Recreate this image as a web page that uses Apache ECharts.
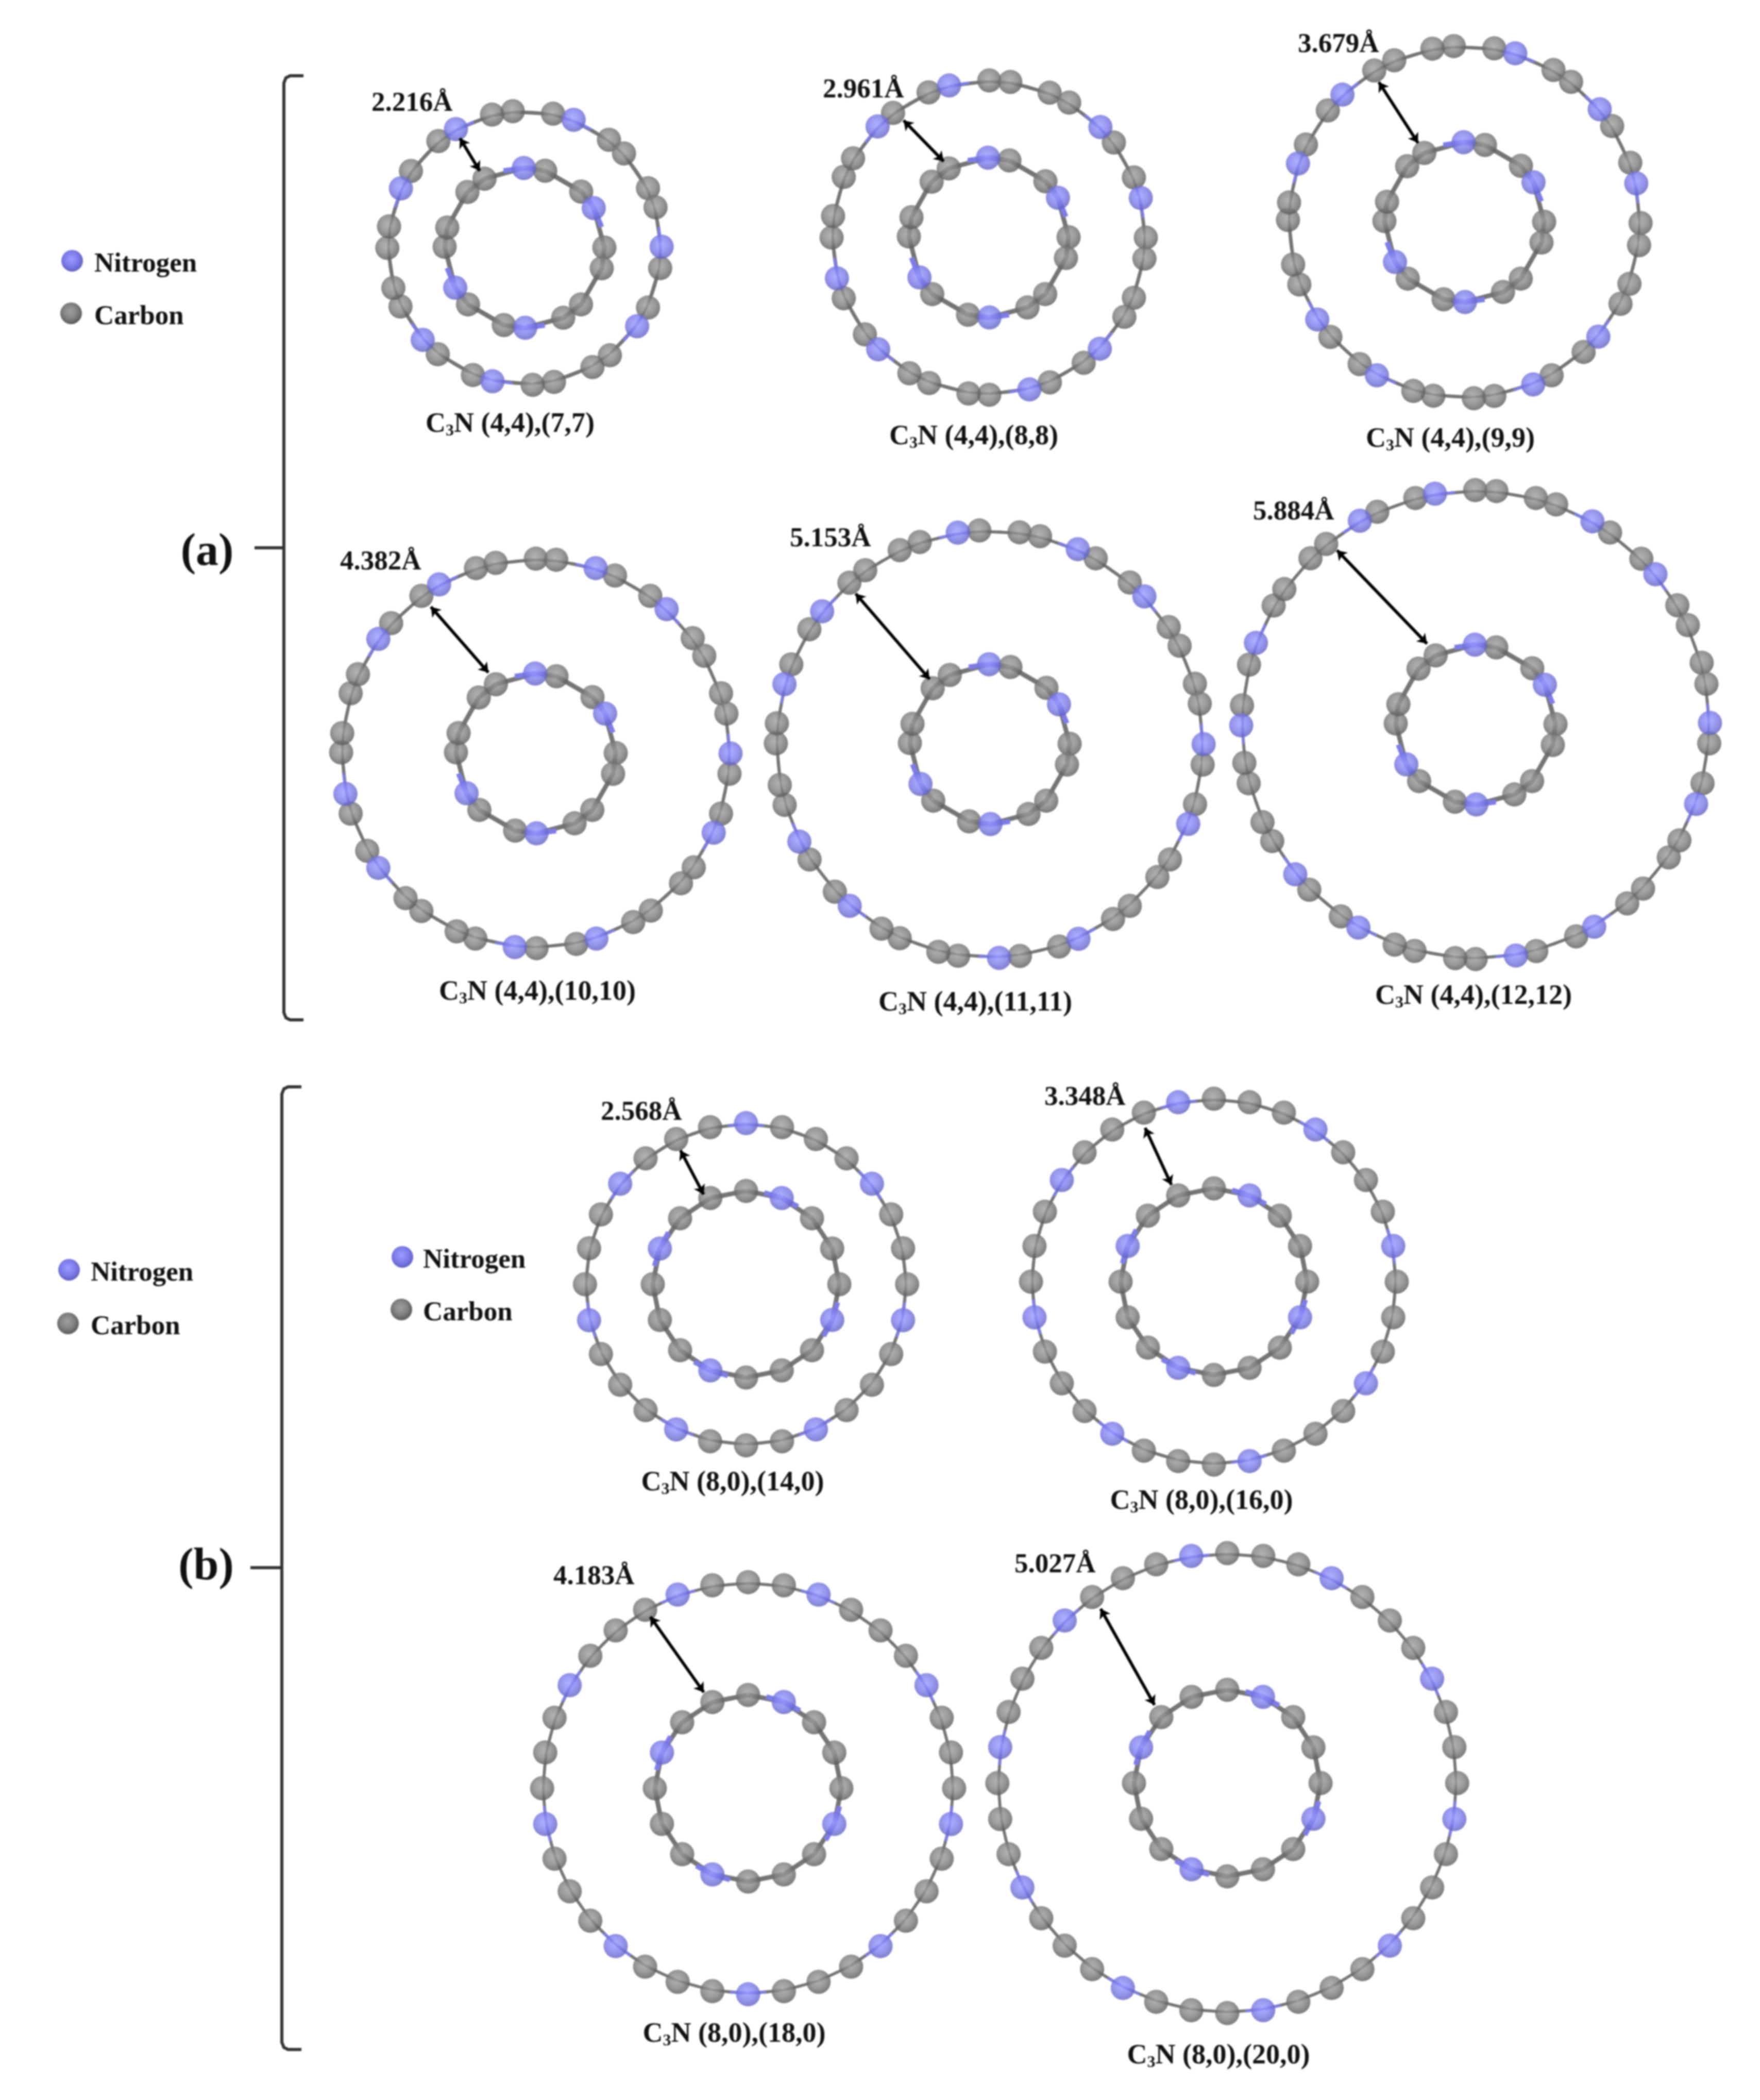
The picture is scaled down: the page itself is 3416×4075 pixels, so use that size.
<!DOCTYPE html>
<html>
<head>
<meta charset="utf-8">
<title>C3N double walled nanotubes</title>
<script src="https://cdn.jsdelivr.net/npm/echarts@6/dist/echarts.min.js"></script>
<style>
  html, body { margin: 0; padding: 0; background: #fff; }
  /* the source figure is a soft upscaled bitmap */
  #main { width: 3416px; height: 4075px; filter: blur(1.6px); }
</style>
</head>
<body>
<div id="main"></div>
<script>
// atom angles, degrees clockwise from the top of each ring
const inner44N = [359.5, 60.1, 179.5, 240.1];
const inner44C = [15, 45.2, 89.7, 104.8, 135, 151, 195, 225, 270.8, 284.8, 314.4, 330];
const inner80N = [22.5, 112.5, 202.5, 292.5];
const inner80C = [0, 45, 67.5, 90, 135, 157.5, 180, 225, 247.5, 270, 315, 337.5];

const outer77N = [21, 89.5, 124.8, 193.5, 227.9, 295.7, 330];
const outer77C = [355.1, 12, 38, 46.5, 64.2, 72.8, 98.5, 115.8, 141.5, 150.3, 167.6, 176.6, 202.1, 219.2, 244.7, 253, 270, 279, 304.1, 321.1, 346.3];
const outer88N = [45.3, 75.4, 135, 165, 224.7, 255, 315, 345.4];
const outer88C = [0.2, 7.9, 22.8, 30.8, 52.8, 67.5, 90, 97.7, 112.5, 120.3, 142.8, 157.1, 179.8, 187.4, 202.3, 210.3, 232, 247.3, 270, 277.9, 292.7, 300.3, 322.5, 337.5];
const outer99N = [16.8, 50.2, 77.3, 130.5, 157, 209.7, 236.5, 289.4, 316.3];
const outer99C = [356.6, 9.8, 30.4, 37.3, 57, 70.3, 90.3, 97.5, 110.5, 117.6, 137.4, 150.3, 170.2, 176.9, 190.1, 196.8, 216.4, 229.4, 249.3, 256.1, 270.7, 276.4, 296.1, 309.3, 329.3, 336.6, 349.6];
const outer1010N = [17.9, 42.2, 90, 114, 161.9, 186.2, 234, 258, 306, 330.2];
const outer1010C = [0, 6, 24, 36, 53.7, 59.9, 72, 78.2, 96, 108, 125.8, 131.8, 143.8, 150, 168, 179.8, 198.1, 204, 216, 222, 240, 252, 270.3, 276, 288, 294, 312, 324, 342.1, 348.1];
const outer1111N = [24.3, 46.3, 90, 111.9, 155.5, 177.5, 220.9, 242.9, 286.3, 308.4, 351.4];
const outer1111C = [357.2, 8, 13.6, 29.7, 40.9, 56.8, 62.6, 73.6, 79.1, 95.5, 106.3, 122.6, 128.4, 139.1, 144.8, 161.1, 171.9, 188.5, 193.9, 204.9, 210.4, 226.4, 237.4, 253.5, 259, 270.2, 275.6, 291.9, 302.5, 319, 324.4, 335.1, 340.9];
const outer1212N = [29.9, 50.1, 89.6, 109.8, 149.6, 170.1, 210, 230.3, 269.8, 290.4, 330.4, 350];
const outer1212C = [359.9, 5.1, 14.9, 20.1, 35, 45, 59.4, 64.9, 74.7, 80, 94.6, 104.5, 119.6, 124.5, 134.4, 139.7, 154.6, 165, 180, 185, 195.1, 200.2, 215.1, 225.2, 240.2, 245.4, 255.5, 260.6, 274.7, 284.8, 300.5, 305.3, 315.2, 320.4, 335.2, 345.1];

const outer140N = [0, 51.4, 102.9, 154.3, 205.7, 257.1, 308.6];
const outer140C = [12.9, 25.7, 38.6, 64.3, 77.1, 90, 115.7, 128.6, 141.4, 167.1, 180, 192.9, 218.6, 231.4, 244.3, 270, 282.9, 295.7, 321.4, 334.3, 347.1];
const outer160N = [33.75, 78.75, 123.75, 168.75, 213.75, 258.75, 303.75, 348.75];
const outer160C = [0, 11.25, 22.5, 45, 56.25, 67.5, 90, 101.25, 112.5, 135, 146.25, 157.5, 180, 191.25, 202.5, 225, 236.25, 247.5, 270, 281.25, 292.5, 315, 326.25, 337.5];
const outer180N = [20, 60, 100, 140, 180, 220, 260, 300, 340];
const outer180C = [0, 10, 30, 40, 50, 70, 80, 90, 110, 120, 130, 150, 160, 170, 190, 200, 210, 230, 240, 250, 270, 280, 290, 310, 320, 330, 350];
const outer200N = [27, 63, 99, 135, 171, 207, 243, 279, 315, 351];
const outer200C = [0, 9, 18, 36, 45, 54, 72, 81, 90, 108, 117, 126, 144, 153, 162, 180, 189, 198, 216, 225, 234, 252, 261, 270, 288, 297, 306, 324, 333, 342];

// wall radii in angstrom
const innerRadius = [3.04, 3.04, 3.04, 3.04, 3.04, 3.04, 3.55, 3.55, 3.55, 3.55];
const outerRadius = [5.22, 5.98, 6.71, 7.41, 8.14, 8.92, 6.13, 6.96, 7.84, 8.75];

// wall to wall arrows: radius and angle at both ends
const arrowOuterR = [4.84, 5.51, 6.24, 6.86, 7.67, 8.47, 5.67, 6.41, 7.51, 8.2];
const arrowOuterA = [329.5, 324, 328.6, 324.4, 318.3, 321.5, 333.9, 335.9, 330.3, 324];
const arrowInnerR = [3.39, 3.37, 3.49, 3.57, 3.37, 3.59, 3.78, 4.02, 4.02, 4.06];
const arrowInnerA = [329.8, 329.4, 329.7, 329.6, 317.2, 329, 334.7, 336.3, 335.2, 317];

const gapLabels = ['2.216Å', '2.961Å', '3.679Å', '4.382Å', '5.153Å', '5.884Å', '2.568Å', '3.348Å', '4.183Å', '5.027Å'];
const innerTube = ['(4,4)', '(4,4)', '(4,4)', '(4,4)', '(4,4)', '(4,4)', '(8,0)', '(8,0)', '(8,0)', '(8,0)'];
const outerTube = ['(7,7)', '(8,8)', '(9,9)', '(10,10)', '(11,11)', '(12,12)', '(14,0)', '(16,0)', '(18,0)', '(20,0)'];

const outerN = [outer77N, outer88N, outer99N, outer1010N, outer1111N, outer1212N, outer140N, outer160N, outer180N, outer200N];
const outerC = [outer77C, outer88C, outer99C, outer1010C, outer1111C, outer1212C, outer140C, outer160C, outer180C, outer200C];
const legendNames = ['Nitrogen', 'Carbon'];

// layout, in page pixels
const pxPerAngstrom = 51;
const panelCenter = [[1018, 481], [1919, 461], [2842, 431], [1040, 1462], [1921, 1444], [2864, 1406], [1448, 2492], [2356, 2487], [1452, 3470], [2382, 3460]];
const gapLabelPos = [[721, 201], [1597, 175], [2519, 87], [660, 1091], [1533, 1046], [2432, 994], [1166, 2159], [2027, 2130], [1074, 3060], [1969, 3037]];
const captionPos = [[990, 824], [1890, 848], [2815, 853], [1043, 1926], [1893, 1947], [2860, 1934], [1422, 2878], [2332, 2914], [1425, 3948], [2365, 3990]];
const legendPos = [[140, 506, 183], [134, 2464, 176], [781, 2439, 821]];
const legendStep = [102, 104, 102];

const chart = echarts.init(document.getElementById('main'), null, { renderer: 'canvas' });

function sphere(light, mid, dark) {
    return new echarts.graphic.RadialGradient(0.46, 0.42, 0.56, [
        { offset: 0, color: light },
        { offset: 0.55, color: mid },
        { offset: 1, color: dark }
    ]);
}
const carbonFill = sphere('#a0a0a0', '#848484', '#5c5c5c');
const nitrogenFill = sphere('#9c9cff', '#7f7fee', '#6262c4');

function ringBonds(radius, angles) {
    const sorted = angles.slice().sort((a, b) => a - b);
    const pts = sorted.map(a => [radius, a]);
    pts.push([radius, sorted[0]]);
    pts.push(['-', '-']);
    return pts;
}

// half bonds on either side of each nitrogen
function nitrogenBonds(radius, nAngles, cAngles) {
    const sorted = nAngles.concat(cAngles).sort((a, b) => a - b);
    const pts = [];
    sorted.forEach((a, i) => {
        if (nAngles.indexOf(a) < 0) return;
        const prev = sorted[(i - 1 + sorted.length) % sorted.length];
        const next = sorted[(i + 1) % sorted.length];
        const before = a - ((a - prev + 360) % 360) / 2;
        const after = a + ((next - a + 360) % 360) / 2;
        pts.push([radius, (before + 360) % 360], [radius, a], [radius, after % 360], ['-', '-']);
    });
    return pts;
}

const polar = [], angleAxis = [], radiusAxis = [], series = [];

panelCenter.forEach((center, i) => {
    const rIn = innerRadius[i];
    const rOut = outerRadius[i];
    const innerN = i < 6 ? inner44N : inner80N;
    const innerC = i < 6 ? inner44C : inner80C;

    polar.push({ center: center, radius: [0, rOut * pxPerAngstrom] });
    angleAxis.push({ polarIndex: i, type: 'value', min: 0, max: 360, startAngle: 90, clockwise: true, show: false });
    radiusAxis.push({ polarIndex: i, type: 'value', min: 0, max: rOut, show: false });

    const lineBase = { type: 'line', coordinateSystem: 'polar', polarIndex: i, symbol: 'none', clip: false, silent: true, animation: false };
    const dotBase = { type: 'scatter', coordinateSystem: 'polar', polarIndex: i, symbolSize: 47, clip: false, silent: true, animation: false };

    series.push(Object.assign({}, lineBase, {
        z: 2,
        lineStyle: { color: '#757575', width: 9 },
        data: ringBonds(rIn, innerN.concat(innerC)).concat(ringBonds(rOut, outerN[i].concat(outerC[i])))
    }));
    series.push(Object.assign({}, lineBase, {
        z: 3,
        lineStyle: { color: '#7d7de6', width: 10 },
        data: nitrogenBonds(rIn, innerN, innerC).concat(nitrogenBonds(rOut, outerN[i], outerC[i]))
    }));
    series.push(Object.assign({}, dotBase, {
        z: 4,
        itemStyle: { color: carbonFill },
        data: innerC.map(a => [rIn, a]).concat(outerC[i].map(a => [rOut, a])),
        markLine: {
            silent: true,
            animation: false,
            symbol: ['arrow', 'arrow'],
            symbolSize: 18,
            z: 6,
            label: { show: false },
            lineStyle: { color: '#000', width: 6, type: 'solid' },
            data: [[
                { coord: [arrowOuterR[i], arrowOuterA[i]] },
                { coord: [arrowInnerR[i], arrowInnerA[i]] }
            ]]
        }
    }));
    series.push(Object.assign({}, dotBase, {
        z: 5,
        itemStyle: { color: nitrogenFill },
        data: innerN.map(a => [rIn, a]).concat(outerN[i].map(a => [rOut, a]))
    }));
});

// texts, brackets, legends
const textFont = { fontFamily: 'Liberation Serif', fontWeight: 'bold', fill: '#111' };
const graphic = [];

gapLabels.forEach((t, i) => {
    graphic.push({
        type: 'text', silent: true,
        style: Object.assign({}, textFont, { text: t, x: gapLabelPos[i][0], y: gapLabelPos[i][1], fontSize: 53, align: 'left', verticalAlign: 'middle' })
    });
    graphic.push({
        type: 'text', silent: true,
        style: Object.assign({}, textFont, {
            text: '{a|C}{s|3}{a|N ' + innerTube[i] + ',' + outerTube[i] + '}',
            x: captionPos[i][0], y: captionPos[i][1], align: 'center', verticalAlign: 'middle',
            rich: {
                a: { fontFamily: 'Liberation Serif', fontWeight: 'bold', fontSize: 54, lineHeight: 58, fill: '#111', verticalAlign: 'middle' },
                s: { fontFamily: 'Liberation Serif', fontWeight: 'bold', fontSize: 32, lineHeight: 32, fill: '#111', verticalAlign: 'bottom', padding: [18, 0, 0, 0] }
            }
        })
    });
});

legendPos.forEach((p, i) => {
    legendNames.forEach((name, k) => {
        const y = p[1] + k * legendStep[i];
        graphic.push({
            type: 'circle', silent: true,
            shape: { cx: p[0] - (k ? 2 : 0), cy: y, r: 21 },
            style: { fill: k ? carbonFill : nitrogenFill }
        });
        graphic.push({
            type: 'text', silent: true,
            style: Object.assign({}, textFont, { text: name, x: p[2], y: y + 7, fontSize: 53, align: 'left', verticalAlign: 'middle' })
        });
    });
});

function bracket(x, top, bottom, mid, tickEnd, midEnd, label, labelX, labelY) {
    graphic.push({
        type: 'polyline', silent: true,
        shape: { points: [[tickEnd, top], [x + 12, top], [x + 4, top + 4], [x, top + 14], [x, bottom - 14], [x + 4, bottom - 4], [x + 12, bottom], [tickEnd, bottom]] },
        style: { stroke: '#333', lineWidth: 6, fill: null }
    });
    graphic.push({
        type: 'line', silent: true,
        shape: { x1: midEnd, y1: mid, x2: x, y2: mid },
        style: { stroke: '#333', lineWidth: 6 }
    });
    graphic.push({
        type: 'text', silent: true,
        style: Object.assign({}, textFont, { text: label, x: labelX, y: labelY, fontSize: 88, align: 'center', verticalAlign: 'middle' })
    });
}
bracket(551, 147, 1979, 1063, 589, 494, '(a)', 402, 1073);
bracket(547, 2109, 3977, 3042, 585, 486, '(b)', 400, 3042);

chart.setOption({
    backgroundColor: '#ffffff',
    animation: false,
    tooltip: { show: false },
    polar: polar,
    angleAxis: angleAxis,
    radiusAxis: radiusAxis,
    series: series,
    graphic: { elements: graphic }
});
</script>
</body>
</html>
